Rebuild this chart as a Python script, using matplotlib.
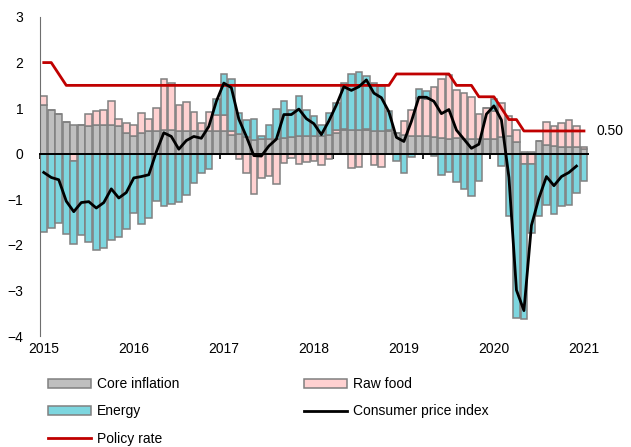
import matplotlib

matplotlib.use("Agg")
import matplotlib.pyplot as plt
import numpy as np
from matplotlib.lines import Line2D
from matplotlib.patches import Patch

plt.rcParams["font.family"] = ["Liberation Sans", "DejaVu Sans"]

YEARS = ["2015", "2016", "2017", "2018", "2019", "2020", "2021"]

# contributions to headline inflation, % pts, Jan 2015 - Jan 2021
CORE = [
    1.08, 0.97, 0.88, 0.70, 0.62, 0.62, 0.61, 0.62, 0.64, 0.62, 0.60, 0.45,
    0.40, 0.46, 0.49, 0.51, 0.53, 0.53, 0.51, 0.50, 0.50, 0.49, 0.49, 0.49,
    0.50, 0.42, 0.43, 0.36, 0.31, 0.32, 0.32, 0.33, 0.35, 0.37, 0.39, 0.39,
    0.40, 0.40, 0.42, 0.45, 0.52, 0.53, 0.52, 0.52, 0.50, 0.50, 0.49, 0.46,
    0.42, 0.40, 0.40, 0.38, 0.37, 0.35, 0.32, 0.34, 0.33, 0.33, 0.33, 0.33,
    0.32, 0.37, 0.38, 0.26, 0.03, 0.03, 0.28, 0.20, 0.17, 0.15, 0.14, 0.14,
    0.11,
]
RAW_FOOD = [
    0.19, 0.00, 0.00, 0.00, -0.16, 0.00, 0.27, 0.32, 0.31, 0.54, 0.17, 0.22,
    0.22, 0.44, 0.28, 0.49, 1.10, 1.03, 0.55, 0.64, 0.42, 0.18, 0.43, 0.36,
    0.36, 0.07, -0.12, -0.42, -0.88, -0.53, -0.48, -0.67, -0.21, -0.10, -0.23, -0.18,
    -0.15, -0.25, -0.12, 0.08, 0.02, -0.32, -0.30, 0.03, -0.24, -0.30, 0.03, 0.00,
    0.29, 0.55, 0.82, 0.82, 1.10, 1.28, 1.41, 1.05, 1.00, 0.92, 0.55, 0.67,
    0.62, 0.74, 0.44, 0.27, -0.23, -0.23, 0.00, 0.49, 0.44, 0.52, 0.61, 0.47,
    0.04,
]
ENERGY = [
    -1.72, -1.63, -1.51, -1.76, -1.81, -1.78, -1.94, -2.11, -2.06, -1.90, -1.82, -1.66,
    -1.30, -1.55, -1.41, -1.03, -1.15, -1.10, -1.05, -0.90, -0.65, -0.42, -0.34, 0.36,
    0.90, 1.15, 0.47, 0.39, 0.45, 0.08, 0.30, 0.65, 0.81, 0.60, 0.88, 0.57,
    0.43, 0.22, 0.48, 0.59, 1.01, 1.21, 1.27, 1.15, 1.05, 0.98, 0.41, -0.16,
    -0.43, -0.08, 0.19, 0.17, -0.05, -0.46, -0.41, -0.63, -0.78, -0.93, -0.60, 0.00,
    0.27, -0.26, -1.37, -3.60, -3.40, -1.50, -1.36, -1.12, -1.33, -1.15, -1.13, -0.85,
    -0.60,
]
# headline CPI, % y/y, Jan 2015 - Dec 2020
CPI = [
    -0.41, -0.52, -0.57, -1.04, -1.27, -1.07, -1.05, -1.19, -1.07, -0.77, -0.97, -0.85,
    -0.53, -0.50, -0.46, 0.04, 0.46, 0.38, 0.10, 0.29, 0.38, 0.34, 0.60, 1.15,
    1.55, 1.45, 0.76, 0.38, -0.04, -0.05, 0.17, 0.32, 0.86, 0.86, 0.98, 0.77,
    0.66, 0.42, 0.72, 1.07, 1.47, 1.39, 1.47, 1.62, 1.33, 1.23, 0.92, 0.36,
    0.27, 0.71, 1.24, 1.24, 1.15, 0.88, 0.97, 0.52, 0.32, 0.12, 0.21, 0.87,
    1.05, 0.74, -0.52, -2.99, -3.44, -1.57, -0.97, -0.50, -0.70, -0.50, -0.41, -0.27,
]
# policy rate, %, Jan 2015 - Jan 2021
POLICY = [
    2.00, 2.00, 1.75, 1.50, 1.50, 1.50, 1.50, 1.50, 1.50, 1.50, 1.50, 1.50,
    1.50, 1.50, 1.50, 1.50, 1.50, 1.50, 1.50, 1.50, 1.50, 1.50, 1.50, 1.50,
    1.50, 1.50, 1.50, 1.50, 1.50, 1.50, 1.50, 1.50, 1.50, 1.50, 1.50, 1.50,
    1.50, 1.50, 1.50, 1.50, 1.50, 1.50, 1.50, 1.50, 1.50, 1.50, 1.50, 1.75,
    1.75, 1.75, 1.75, 1.75, 1.75, 1.75, 1.75, 1.50, 1.50, 1.50, 1.25, 1.25,
    1.25, 1.00, 0.75, 0.75, 0.50, 0.50, 0.50, 0.50, 0.50, 0.50, 0.50, 0.50,
    0.50,
]

COLORS = {
    "core": "#BFBFBF",
    "food": "#FFD1D1",
    "energy": "#7DD6DF",
    "edge": "#808080",
    "cpi": "black",
    "policy": "#C00000",
}


def main():
    n = len(CORE)
    x = np.arange(n) + 0.5

    fig = plt.figure(figsize=(6.31, 4.47), dpi=100, facecolor="white")
    ax = fig.add_axes([0.0634, 0.248, 0.868, 0.714])

    # stacked columns: positives pile up from zero, negatives pile down
    pos_base = np.zeros(n)
    neg_base = np.zeros(n)
    series = [(CORE, "core"), (RAW_FOOD, "food"), (ENERGY, "energy")]
    for vals, key in series:
        v = np.asarray(vals, dtype=float)
        bottom = np.where(v >= 0, pos_base, neg_base)
        ax.bar(x, v, bottom=bottom, width=0.88, color=COLORS[key],
               edgecolor=COLORS["edge"], linewidth=1.1, zorder=2)
        pos_base += np.clip(v, 0, None)
        neg_base += np.clip(v, None, 0)

    ax.plot(x[:len(CPI)], CPI, color=COLORS["cpi"], lw=2, zorder=4)
    ax.plot(x, POLICY, color=COLORS["policy"], lw=2, zorder=3)
    ax.annotate(f"{POLICY[-1]:.2f}", xy=(x[-1], POLICY[-1]), xytext=(9, 0),
                textcoords="offset points", va="center", ha="left", fontsize=10,
                annotation_clip=False)

    ax.set_xlim(0, n)
    ax.set_ylim(-4, 3)
    ax.set_yticks(range(-4, 4))
    ax.tick_params(axis="y", length=0, pad=12, labelsize=10)

    # horizontal axis sits on zero, with quarterly ticks
    ax.spines["bottom"].set_position(("data", 0))
    ax.spines["bottom"].set_color("black")
    ax.spines["bottom"].set_linewidth(1.4)
    ax.spines["bottom"].set_zorder(5)
    ax.set_xticks(np.arange(0, n, 3))
    ax.tick_params(axis="x", direction="out", length=3.5, width=1.2, labelbottom=False)
    ax.spines["left"].set_color("#6E6E6E")
    ax.spines[["top", "right"]].set_visible(False)

    # year labels below the plot, on the January columns
    for i, yr in enumerate(YEARS):
        ax.annotate(yr, xy=(x[i * 12], 0), xycoords=("data", "axes fraction"),
                    xytext=(0, -4), textcoords="offset points",
                    ha="center", va="top", fontsize=10)

    handles = [
        Patch(facecolor=COLORS["core"], edgecolor=COLORS["edge"], lw=1.1),
        Patch(facecolor=COLORS["energy"], edgecolor=COLORS["edge"], lw=1.1),
        Line2D([], [], color=COLORS["policy"], lw=2),
        Patch(facecolor=COLORS["food"], edgecolor=COLORS["edge"], lw=1.1),
        Line2D([], [], color=COLORS["cpi"], lw=2),
    ]
    labels = ["Core inflation", "Energy", "Policy rate", "Raw food", "Consumer price index"]
    fig.legend(handles, labels, ncol=2, loc="upper left", bbox_to_anchor=(0.076, 0.156),
               frameon=False, fontsize=10, handlelength=3.1, handleheight=0.65,
               handletextpad=0.4, columnspacing=9.0, labelspacing=0.95,
               borderpad=0, borderaxespad=0)

    fig.savefig("out.png", dpi=100, facecolor="white")


if __name__ == "__main__":
    main()
